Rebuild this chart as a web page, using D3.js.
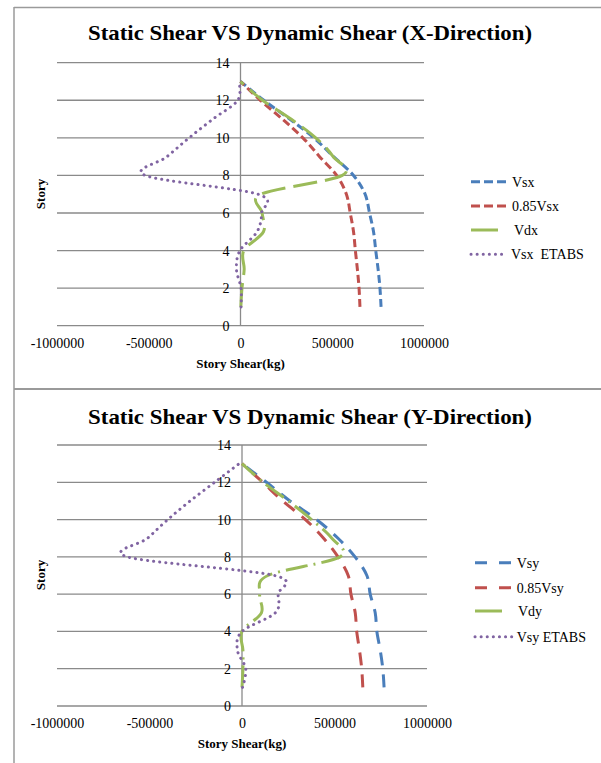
<!DOCTYPE html>
<html>
<head>
<meta charset="utf-8">
<script src="https://cdn.jsdelivr.net/npm/d3@7"></script>
<style>
  html, body { margin: 0; padding: 0; background: #fff; }
  svg { display: block; }
  text { font-family: "Liberation Serif", "Times New Roman", serif; fill: #000; }
</style>
</head>
<body>
<svg id="chart" width="601" height="763"></svg>
<script>
// ---------- DATA ----------
const stories = [1, 2, 3, 4, 5, 6, 7, 8, 9, 10, 11, 12, 13];
const xTicks = [-1000000, -500000, 0, 500000, 1000000];
const yTicks = [0, 2, 4, 6, 8, 10, 12, 14];

// X-direction
const vsx      = [766000, 760000, 750000, 737000, 725000, 703000, 679000, 616000, 507000, 400000, 268000, 127000, 0];
const vsx085   = [651000, 646000, 637000, 626000, 616000, 598000, 577000, 524000, 431000, 340000, 228000, 108000, 0];
const vdx      = [2000, 8000, 20000, 18000, 125000, 118000, 112000, 555000, 505000, 410000, 275000, 120000, 0];
const vsxEtabs = [3000, 3000, -22000, -3000, 90000, 115000, 95000, -520000, -400000, -280000, -150000, -15000, -9000];

// Y-direction
const vsy      = [768000, 761000, 747000, 729000, 720000, 693000, 675000, 611000, 519000, 403000, 259000, 132000, 0];
const vsy085   = [653000, 647000, 635000, 620000, 612000, 589000, 574000, 519000, 441000, 343000, 220000, 112000, 0];
const vdy      = [0, 5000, 5000, 0, 105000, 96000, 140000, 530000, 485000, 376000, 250000, 114000, 0];
const vsyEtabs = [3000, 20000, -25000, 0, 180000, 195000, 175000, -620000, -510000, -401000, -280000, -148000, -15000];

const titles = ["Static Shear VS Dynamic Shear (X-Direction)", "Static Shear VS Dynamic Shear (Y-Direction)"];
const xTitle = "Story Shear(kg)";
const yTitle = "Story";
const namesX = ["Vsx", "0.85Vsx", "Vdx", "Vsx  ETABS"];
const namesY = ["Vsy", "0.85Vsy", "Vdy", "Vsy ETABS"];
const colors = ["#4a7ebb", "#c0504d", "#9bbb59", "#8064a2"];

// ---------- DRAW ----------
const svg = d3.select("#chart");
const gridColor = "#8a8a8a";
const fmt = d => String(d);

// frame lines
svg.append("line").attr("x1", 14).attr("x2", 601).attr("y1", 7.5).attr("y2", 7.5)
  .attr("stroke", "#9a9a9a").attr("stroke-width", 1.5);
svg.append("line").attr("x1", 14).attr("x2", 14).attr("y1", 7).attr("y2", 763)
  .attr("stroke", "#9a9a9a").attr("stroke-width", 1.5);
svg.append("line").attr("x1", 14).attr("x2", 601).attr("y1", 389).attr("y2", 389)
  .attr("stroke", "#9a9a9a").attr("stroke-width", 2);

function drawChart(cfg) {
  const g = svg.append("g");
  const x = d3.scaleLinear().domain([-1000000, 1000000]).range([cfg.x0, cfg.x1]);
  const y = d3.scaleLinear().domain([0, 14]).range([cfg.y0, cfg.y1]);

  // title
  g.append("text").attr("x", 310).attr("y", cfg.titleY)
    .attr("text-anchor", "middle").attr("font-size", 22).attr("font-weight", "bold")
    .attr("textLength", 444).attr("lengthAdjust", "spacingAndGlyphs")
    .text(cfg.title);

  // horizontal gridlines
  g.selectAll(".grid").data(yTicks).enter().append("line")
    .attr("x1", x(-1000000)).attr("x2", x(1000000))
    .attr("y1", d => y(d)).attr("y2", d => y(d))
    .attr("stroke", gridColor).attr("stroke-width", 1.3);

  // vertical axis at 0
  g.append("line").attr("x1", x(0)).attr("x2", x(0)).attr("y1", y(0)).attr("y2", y(14))
    .attr("stroke", gridColor).attr("stroke-width", 1.3);

  // y tick labels (next to zero axis)
  const yAxis = d3.axisLeft(y).tickValues(yTicks).tickSize(0).tickPadding(11).tickFormat(fmt);
  const ya = g.append("g").attr("transform", `translate(${x(0)},0)`).call(yAxis);
  ya.attr("font-family", null);
  ya.select(".domain").remove();
  ya.selectAll("text").attr("font-size", 14).attr("font-family", "Liberation Serif, serif").attr("fill", "#000");

  // x tick labels
  const xAxis = d3.axisBottom(x).tickValues(xTicks).tickSize(0).tickPadding(0).tickFormat(fmt);
  const xa = g.append("g").attr("transform", `translate(0,${cfg.xLabelY})`).call(xAxis);
  xa.attr("font-family", null);
  xa.select(".domain").remove();
  xa.selectAll("text").attr("font-size", 14).attr("font-family", "Liberation Serif, serif").attr("fill", "#000")
    .attr("dy", "0.35em").attr("y", 0);

  // axis titles
  g.append("text").attr("x", x(0)).attr("y", cfg.xTitleY).attr("text-anchor", "middle")
    .attr("font-size", 13).attr("font-weight", "bold").attr("dy", "0.35em").text(xTitle);
  g.append("text").attr("transform", `translate(40,${cfg.yTitleY}) rotate(-90)`)
    .attr("text-anchor", "middle").attr("font-size", 13).attr("font-weight", "bold")
    .attr("dy", "0.35em").text(yTitle);

  // series
  const line = d3.line().curve(d3.curveCatmullRom.alpha(0))
    .x(d => x(d[0])).y(d => y(d[1]));
  cfg.series.forEach((vals, i) => {
    const pts = vals.map((v, k) => [v, stories[k]]);
    const p = g.append("path").datum(pts).attr("d", line)
      .attr("fill", "none").attr("stroke", colors[i]).attr("stroke-width", 3)
      .attr("stroke-dasharray", cfg.dashes[i]);
    if (i === 3) p.attr("stroke-linecap", "round");
  });

  // legend
  cfg.names.forEach((name, i) => {
    const ly = cfg.legY[i];
    const l = g.append("line").attr("x1", cfg.legX0).attr("x2", i === 2 ? cfg.legX0 + 27 : cfg.legX1)
      .attr("y1", ly).attr("y2", ly).attr("stroke", colors[i]).attr("stroke-width", 3)
      .attr("stroke-dasharray", i === 2 ? null : cfg.legDashes[i]);
    if (i === 3) l.attr("stroke-linecap", "round");
    g.append("text").attr("x", cfg.legTextX[i]).attr("y", ly).attr("dy", "0.35em")
      .attr("font-size", 14).style("white-space", "pre").text(name);
  });
}

drawChart({
  title: titles[0], titleY: 40,
  x0: 57, x1: 424, y0: 325.7, y1: 62.7,
  xLabelY: 343.5, xTitleY: 363, yTitleY: 194,
  series: [vsx, vsx085, vdx, vsxEtabs],
  dashes: ["8,4", "8,4", "24,8", "0.1,6"],
  legDashes: ["9,4", "9,4", null, "0.1,6"],
  names: namesX,
  legY: [181.7, 206, 230, 254.3],
  legX0: 471, legX1: 507,
  legTextX: [512, 512, 514, 511]
});

drawChart({
  title: titles[1], titleY: 424,
  x0: 57, x1: 427, y0: 706, y1: 445,
  xLabelY: 723.5, xTitleY: 743.5, yTitleY: 575,
  series: [vsy, vsy085, vdy, vsyEtabs],
  dashes: ["13,9", "13,9", "22,6,2,6", "0.1,6"],
  legDashes: ["12,12", "12,12", null, "0.1,6"],
  names: namesY,
  legY: [562.7, 587.7, 611, 636.7],
  legX0: 475, legX1: 511.7,
  legTextX: [516.7, 516.7, 518, 516.7]
});
</script>
</body>
</html>
